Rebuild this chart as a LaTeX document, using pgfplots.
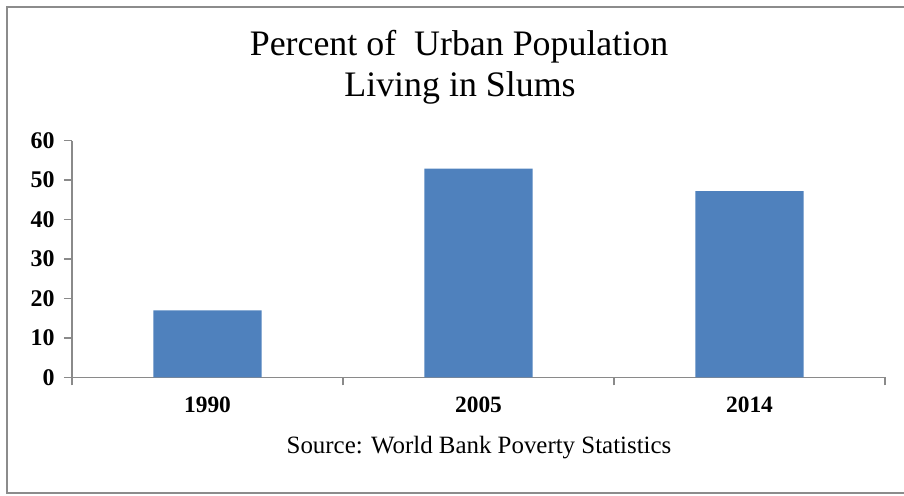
\documentclass[border=0pt]{standalone}
\usepackage{fontspec}
\setmainfont{Liberation Serif}
\usepackage{pgfplots}
\pgfplotsset{compat=1.18}
\definecolor{barblue}{HTML}{4F81BD}
\definecolor{axgray}{HTML}{8A8A8A}
\definecolor{framegray}{HTML}{8C8C8C}
\begin{document}
\begin{tikzpicture}
\useasboundingbox (0,0) rectangle (904bp,-496bp);
\draw[framegray, line width=2.2bp] (912bp,-7bp) -- (6.7bp,-7bp) -- (6.7bp,-492.7bp) -- (912bp,-492.7bp);
\node[font=\fontsize{36}{43}\selectfont, anchor=base, inner sep=0pt] at (459bp,-55bp) {Percent of\ \ Urban Population};
\node[font=\fontsize{36}{43}\selectfont, anchor=base, inner sep=0pt] at (460bp,-96.7bp) {Living in Slums};
\node[font=\fontsize{25}{30}\selectfont, anchor=base, inner sep=0pt] at (479bp,-453.3bp) {Source: World Bank Poverty Statistics};
\begin{axis}[
  at={(72bp,-377.3bp)}, anchor=south west,
  scale only axis, width=813bp, height=236.6bp,
  xmin=-0.5, xmax=2.5, ymin=0, ymax=60,
  axis x line=bottom, axis y line=left,
  axis line style={axgray, line width=1.3bp, -},
  tick align=outside,
  ytick={0,10,20,30,40,50,60},
  xtick={0,1,2}, xticklabels={1990,2005,2014},
  minor xtick={-0.5,0.5,1.5,2.5},
  major tick length=8bp, minor tick length=8bp,
  tick style={axgray, line width=1.3bp},
  major x tick style={draw=none},
  /pgf/number format/assume math mode=true,
  yticklabel style={font=\fontsize{24}{28}\selectfont\bfseries, text=black, xshift=-6bp},
  xticklabel style={font=\fontsize{23.5}{28}\selectfont\bfseries, text=black, yshift=-8bp},
]
\addplot[ybar, bar width=108.4bp, fill=barblue, draw=none] coordinates {(0,17.0) (1,52.9) (2,47.2)};
\end{axis}
\end{tikzpicture}
\end{document}
